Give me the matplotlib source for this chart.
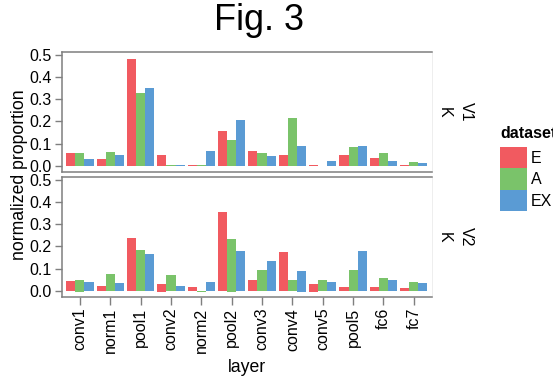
import numpy as np
import matplotlib.pyplot as plt
from matplotlib.patches import Patch

plt.rcParams['font.family'] = ['Liberation Sans', 'DejaVu Sans']

layers = ['conv1', 'norm1', 'pool1', 'conv2', 'norm2', 'pool2',
          'conv3', 'conv4', 'conv5', 'pool5', 'fc6', 'fc7']
datasets = ['E', 'A', 'EX']
colores = ['#F15A60', '#7AC36A', '#5A9BD4']

# V1 / K
v1_E = [0.059, 0.034, 0.482, 0.050, 0.003, 0.159, 0.068, 0.050, 0.003, 0.050, 0.037, 0.006]
v1_A = [0.059, 0.064, 0.328, 0.003, 0.003, 0.117, 0.059, 0.215, 0.002, 0.086, 0.059, 0.019]
v1_EX = [0.034, 0.050, 0.349, 0.003, 0.068, 0.206, 0.046, 0.090, 0.024, 0.090, 0.024, 0.015]

# V2 / K
v2_E = [0.044, 0.022, 0.240, 0.031, 0.017, 0.353, 0.052, 0.174, 0.031, 0.017, 0.017, 0.013]
v2_A = [0.052, 0.078, 0.183, 0.074, 0.000, 0.235, 0.096, 0.048, 0.048, 0.096, 0.057, 0.039]
v2_EX = [0.039, 0.035, 0.166, 0.022, 0.039, 0.179, 0.135, 0.092, 0.039, 0.179, 0.052, 0.035]
# pequeñas partes negativas
v2_E_neg = [0, 0, 0, -0.004, 0, 0, 0, 0, -0.004, 0, 0, 0]
v2_A_neg = [-0.004, 0, 0, 0, -0.004, -0.004, 0, 0, 0, 0, 0, 0]
v2_EX_neg = [0, 0, 0, 0, 0, 0, 0, -0.004, 0, 0, 0, 0]

paneles = [('V1', 'K', [v1_E, v1_A, v1_EX], [[0] * 12] * 3),
           ('V2', 'K', [v2_E, v2_A, v2_EX], [v2_E_neg, v2_A_neg, v2_EX_neg])]

W, H = 553, 377


def caja(l, t, r, b):
    return [l / W, 1 - b / H, (r - l) / W, (b - t) / H]


fig = plt.figure(figsize=(W / 100, H / 100), dpi=100)
posiciones = [caja(61.7, 52.3, 432, 171.7), caja(61.7, 177.3, 432, 296.7)]
gris = '#7f7f7f'
x = np.arange(1, len(layers) + 1)

for k, (area, modelo, series, negs) in enumerate(paneles):
    ax = fig.add_axes(posiciones[k])
    for j in range(3):
        top = np.array(series[j])
        low = np.array(negs[j])
        ax.bar(x + (j - 1) * 0.3, top - low, bottom=low, width=0.3,
               color=colores[j], linewidth=0)
    ax.set_xlim(0.4, 12.6)
    ax.set_ylim(-0.025, 0.51)
    ax.set_yticks([0, 0.1, 0.2, 0.3, 0.4, 0.5])
    ax.set_yticklabels(['0.0', '0.1', '0.2', '0.3', '0.4', '0.5'])
    for s in ['left', 'top', 'bottom']:
        ax.spines[s].set_color(gris)
        ax.spines[s].set_linewidth(1.1)
    ax.spines['right'].set_color('#ebebeb')
    ax.spines['right'].set_linewidth(0.6)
    ax.tick_params(axis='y', length=4.7, width=1.0, color=gris, pad=2.5,
                   labelsize=11.5, labelcolor='black')
    ax.set_xticks(x)
    if k == 0:
        ax.tick_params(axis='x', length=0, labelbottom=False)
    else:
        ax.set_xticklabels(layers, rotation=90)
        ax.tick_params(axis='x', length=5.5, width=1.0, color=gris, pad=2.5,
                       labelsize=11.5, labelcolor='black')
    ymid = posiciones[k][1] + posiciones[k][3] / 2
    fig.text(466 / W, ymid, area, rotation=270, ha='center', va='center', fontsize=11.5)
    fig.text(444 / W, ymid, modelo, rotation=270, ha='center', va='center', fontsize=11.5)

fig.text(259 / W, 1 - 21 / H, 'Fig. 3', ha='center', va='center', fontsize=26)
fig.text(247 / W, 1 - 372 / H, 'layer', ha='center', va='baseline', fontsize=12.7)
fig.text(20 / W, 1 - 174.5 / H, 'normalized proportion', rotation=90,
         ha='center', va='center', fontsize=12.7)

handles = [Patch(facecolor=c, edgecolor='none') for c in colores]
leg = fig.legend(handles, datasets, title='dataset', loc='upper left',
                 bbox_to_anchor=(500 / W, 1 - 126 / H), frameon=False,
                 fontsize=11.5, title_fontsize=11.5, handlelength=1.7,
                 handleheight=1.7, labelspacing=0, handletextpad=0.25,
                 borderpad=0, borderaxespad=0)
leg.get_title().set_fontweight('bold')
leg._legend_box.align = 'left'
leg._legend_box.sep = 4

fig.savefig('out.png', dpi=100)
